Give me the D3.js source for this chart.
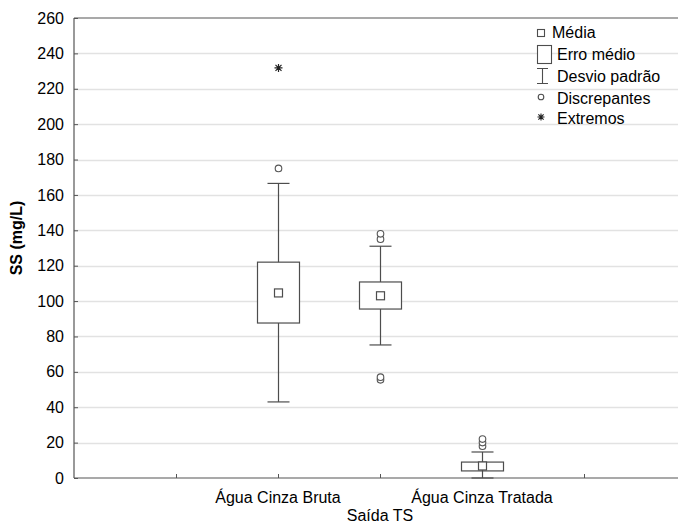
<!DOCTYPE html>
<html>
<head>
<meta charset="utf-8">
<script src="https://cdn.jsdelivr.net/npm/d3@7"></script>
<style>
  body { margin: 0; background: #fff; }
  text { font-family: "Liberation Sans", Arial, sans-serif; fill: #000; }
</style>
</head>
<body>
<div id="chart"></div>
<script>
var w = 678, h = 523;

// data
var groups    = ["Água Cinza Bruta", "", "Água Cinza Tratada"];
var positions = [2, 3, 4];
var means     = [104.6, 103, 6.8];
var boxLow    = [87.6, 95.5, 4];
var boxHigh   = [122, 110.8, 9];
var whiskLow  = [43, 75.2, 0];
var whiskHigh = [166.5, 131, 14.7];
var outliers  = [[175], [135, 138, 55.5, 57], [18, 20, 22]];
var extremes  = [[231.8], [], []];
var yTicks    = d3.range(0, 261, 20);
var xTicks    = [1, 2, 3, 4, 5];
var legendItems = ["Média", "Erro médio", "Desvio padrão", "Discrepantes", "Extremos"];

var plotLeft = 74, plotTop = 18, plotBottom = 478;

var x = d3.scaleLinear().domain([0, 6]).range([plotLeft, 686]);
var y = d3.scaleLinear().domain([0, 260]).range([plotBottom, plotTop]);

var svg = d3.select("#chart").append("svg")
    .attr("width", w)
    .attr("height", h)

// grid
svg.append("g").selectAll("line")
    .data(yTicks.filter(function(d){ return d > 0 && d < 260; }))
    .enter().append("line")
    .attr("x1", plotLeft).attr("x2", w)
    .attr("y1", function(d){ return Math.round(y(d)) + 0.5; })
    .attr("y2", function(d){ return Math.round(y(d)) + 0.5; })
    .style("stroke", "#e2e2e2")
    .style("stroke-width", 1.5)

// frame: left, bottom, top
var frame = svg.append("g").style("stroke", "#555").style("stroke-width", 1.2);
frame.append("line").attr("x1", plotLeft).attr("x2", plotLeft).attr("y1", plotTop).attr("y2", plotBottom);
frame.append("line").attr("x1", plotLeft).attr("x2", w).attr("y1", plotBottom).attr("y2", plotBottom);
frame.append("line").attr("x1", plotLeft).attr("x2", w).attr("y1", plotTop).attr("y2", plotTop);

// y axis (ticks inward)
var yAxis = d3.axisLeft(y).tickValues(yTicks).tickSize(-4).tickPadding(10);
var gy = svg.append("g").attr("transform", "translate(" + plotLeft + ",0)").call(yAxis);
gy.select(".domain").remove();
gy.selectAll(".tick line").style("stroke", "#555");
gy.selectAll("text").style("font-size", "16px").style("font-family", "Liberation Sans, Arial, sans-serif").attr("fill", "#000");

// x axis ticks (inward)
var xAxis = d3.axisBottom(x).tickValues(xTicks).tickSize(-4).tickFormat("");
var gx = svg.append("g").attr("transform", "translate(0," + plotBottom + ")").call(xAxis);
gx.select(".domain").remove();
gx.selectAll(".tick line").style("stroke", "#555");

// category labels
svg.append("g").selectAll("text")
    .data(groups)
    .enter().append("text")
    .attr("x", function(d, i){ return x(positions[i]); })
    .attr("y", 503)
    .attr("text-anchor", "middle")
    .style("font-size", "16px")
    .text(function(d){ return d; })

// axis titles
svg.append("text")
    .attr("x", x(3)).attr("y", 521)
    .attr("text-anchor", "middle")
    .style("font-size", "16px")
    .text("Saída TS")

svg.append("text")
    .attr("transform", "translate(16," + 238 + ") rotate(-90)")
    .attr("text-anchor", "middle")
    .attr("dy", "0.35em")
    .style("font-size", "16px")
    .style("font-weight", "bold")
    .text("SS (mg/L)")

// boxes
var stroke = "#4d4d4d";
var boxW = 21, capW = 11;
var boxes = svg.append("g");

function starPath(cx, cy, r) {
    var d = r * 0.75;
    return "M" + (cx - r) + "," + cy + "H" + (cx + r) +
        "M" + cx + "," + (cy - r) + "V" + (cy + r) +
        "M" + (cx - d) + "," + (cy - d) + "L" + (cx + d) + "," + (cy + d) +
        "M" + (cx - d) + "," + (cy + d) + "L" + (cx + d) + "," + (cy - d);
}

positions.forEach(function(p, i) {
    var cx = Math.round(x(p)) + 0.5;
    var g = boxes.append("g").style("stroke", stroke).style("stroke-width", 1.2).style("fill", "none");
    // whisker
    g.append("line").attr("x1", cx).attr("x2", cx).attr("y1", y(whiskLow[i])).attr("y2", y(whiskHigh[i]));
    g.append("line").attr("x1", cx - capW).attr("x2", cx + capW).attr("y1", y(whiskLow[i])).attr("y2", y(whiskLow[i]));
    g.append("line").attr("x1", cx - capW).attr("x2", cx + capW).attr("y1", y(whiskHigh[i])).attr("y2", y(whiskHigh[i]));
    // box
    g.append("rect")
        .attr("x", cx - boxW).attr("width", boxW * 2)
        .attr("y", y(boxHigh[i])).attr("height", y(boxLow[i]) - y(boxHigh[i]))
        .style("fill", "#fff");
    if (i == 2) {
        g.append("line").attr("x1", cx).attr("x2", cx).attr("y1", y(boxLow[i])).attr("y2", y(boxHigh[i]));
    }
    // mean
    g.append("rect")
        .attr("x", cx - 4).attr("y", y(means[i]) - 4)
        .attr("width", 8).attr("height", 8)
        .style("fill", "#fff");
    // outliers
    g.selectAll("circle").data(outliers[i]).enter().append("circle")
        .attr("cx", cx).attr("cy", function(d){ return y(d); })
        .attr("r", 3.3)
        .style("fill", "#fff")
        .style("stroke", "#555")
        .style("stroke-width", 1.1);
    // extremes
    g.selectAll("path.ext").data(extremes[i]).enter().append("path")
        .attr("class", "ext")
        .attr("d", function(d){ return starPath(cx, y(d), 4); })
        .style("stroke", "#222")
        .style("stroke-width", 1.2);
});

// legend
var lg = svg.append("g");
var lx = 541, ly = [33, 55, 77, 99, 119];
legendItems.forEach(function(t, i) {
    var g = lg.append("g").style("stroke", stroke).style("fill", "none").style("stroke-width", 1.1);
    if (i == 0) {
        g.append("rect").attr("x", lx - 3.5).attr("y", ly[i] - 3.5).attr("width", 7).attr("height", 7).style("fill", "#fff");
    } else if (i == 1) {
        g.append("rect").attr("x", 537.5).attr("y", 45.5).attr("width", 14).attr("height", 18).style("fill", "#fff");
    } else if (i == 2) {
        g.append("path").attr("d", "M537,68.5H548M542.5,68.5V83M537,83.5H548");
    } else if (i == 3) {
        g.append("circle").attr("cx", lx).attr("cy", ly[i] - 2).attr("r", 2.8).style("fill", "#fff");
    } else {
        g.append("path").attr("d", starPath(lx, ly[i] - 2, 3.5)).style("stroke", "#222");
    }
    lg.append("text")
        .attr("x", i == 0 ? 552 : 557)
        .attr("y", ly[i] + 5)
        .style("font-size", "16px")
        .text(t);
});
</script>
</body>
</html>
